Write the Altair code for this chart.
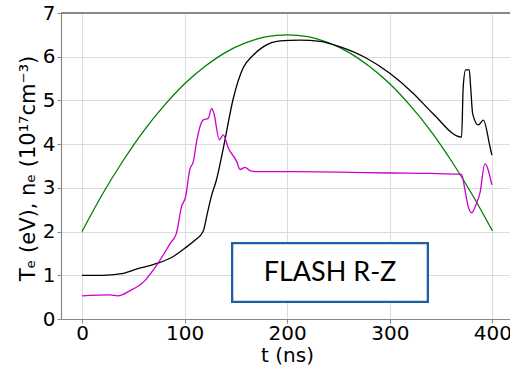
import altair as alt
import pandas as pd

# ---- data ----
green_t = [0, 20, 40, 60, 80, 100, 120, 140, 160, 180, 200, 220, 240, 260, 280, 300, 320, 340, 360, 380, 400]
green_v = [2.0, 2.86, 3.62, 4.30, 4.88, 5.38, 5.78, 6.10, 6.32, 6.46, 6.5, 6.46, 6.32, 6.10, 5.78, 5.38, 4.88, 4.30, 3.62, 2.86, 2.02]

black_t = [0, 20, 37, 53, 73, 89, 102, 110, 118, 122, 126, 131, 138, 147.5, 157, 167, 177, 193, 212, 232,
           251, 277, 300, 323, 342, 370, 371.6, 374, 377.5, 378.8, 380.8, 386.3, 391.2, 397.7, 399.5]
black_v = [1.0, 1.0, 1.03, 1.14, 1.27, 1.43, 1.65, 1.8, 2.0, 2.4, 2.8, 3.18, 3.94, 5.05, 5.74, 6.04, 6.23, 6.36, 6.38, 6.35,
           6.23, 5.97, 5.62, 5.16, 4.7, 4.16, 5.32, 5.70, 5.70, 5.32, 4.7, 4.44, 4.55, 3.94, 3.75]

mag_t = [0, 27, 35, 47, 60, 73, 86, 92, 97, 101, 105, 108.5, 112, 118, 123, 126.4, 128.6, 133.8, 137.7, 142.6, 150.8, 154,
         159, 164, 174, 200, 250, 300, 340, 370, 373.3, 376.5, 379.8, 384.6, 387.9, 392.7, 399.5]
mag_v = [0.53, 0.55, 0.53, 0.65, 0.85, 1.24, 1.73, 1.96, 2.57, 2.80, 3.41, 3.60, 4.10, 4.55, 4.59, 4.82, 4.70, 4.10, 4.21, 3.91, 3.60, 3.42,
         3.47, 3.39, 3.37, 3.37, 3.36, 3.34, 3.33, 3.31, 2.95, 2.57, 2.43, 2.65, 2.88, 3.55, 3.07]

x_ticks = [0, 100, 200, 300, 400]
y_ticks = [0, 1, 2, 3, 4, 5, 6, 7]

W, H = 449, 306

green_df = pd.DataFrame({"t": green_t, "v": green_v})
black_df = pd.DataFrame({"t": black_t, "v": black_v})
mag_df = pd.DataFrame({"t": mag_t, "v": mag_v})

xs = alt.Scale(domain=[-20.5, 417.2], nice=False, zero=False)
ys = alt.Scale(domain=[0, 7], nice=False)

x_axis = alt.Axis(values=x_ticks, title="t (ns)", titleX=226, titleY=42,
                  titleBaseline="alphabetic", titleAlign="center", labelPadding=0)
y_axis = alt.Axis(values=y_ticks, title="Tₑ (eV), nₑ (10¹⁷cm⁻³)", titleX=-33, titleY=155,
                  titleAngle=270, titleBaseline="middle", titleAlign="center", titleFontSize=21)

base_x = alt.X("t:Q", scale=xs, axis=x_axis)
base_y = alt.Y("v:Q", scale=ys, axis=y_axis)

green = alt.Chart(green_df).mark_line(color="#008000", strokeWidth=1.3, interpolate="monotone").encode(x=base_x, y=base_y)
black = alt.Chart(black_df).mark_line(color="#000000", strokeWidth=1.3, interpolate="monotone").encode(x="t:Q", y="v:Q")
mag = alt.Chart(mag_df).mark_line(color="#cc00cc", strokeWidth=1.3, interpolate="monotone").encode(x="t:Q", y="v:Q")

top_spine = alt.Chart(green_df).mark_rule(color="#888888", strokeWidth=1.2).encode(
    x=alt.value(0), x2=alt.value(W), y=alt.value(0))

box = alt.Chart(green_df).mark_rect(fill="white", stroke="#1f5fa6", strokeWidth=2).encode(
    x=alt.value(171.3), x2=alt.value(366.7), y=alt.value(230.3), y2=alt.value(288.7))
label = alt.Chart(pd.DataFrame({"s": ["FLASH R-Z"]})).mark_text(
    font="Lato", fontSize=27, color="black", align="center", baseline="middle").encode(
    x=alt.value(269), y=alt.value(260), text="s:N")

chart = alt.layer(green, black, mag, top_spine, box, label).properties(
    width=W, height=H,
    autosize=alt.AutoSizeParams(type="none"),
    padding={"left": 61, "top": 13, "right": 0, "bottom": 49},
).configure_view(stroke=None).configure_axis(
    labelFont="DejaVu Sans", titleFont="DejaVu Sans", labelFontSize=20, titleFontSize=20,
    labelColor="black", titleColor="black", titleFontWeight="normal",
    domainColor="#888888", domainWidth=1.2, tickColor="#888888", tickSize=4, labelPadding=2,
    gridColor="#dcdcdc", gridWidth=1,
)

chart.save("out.html", embed_options={"renderer": "svg", "actions": False})
